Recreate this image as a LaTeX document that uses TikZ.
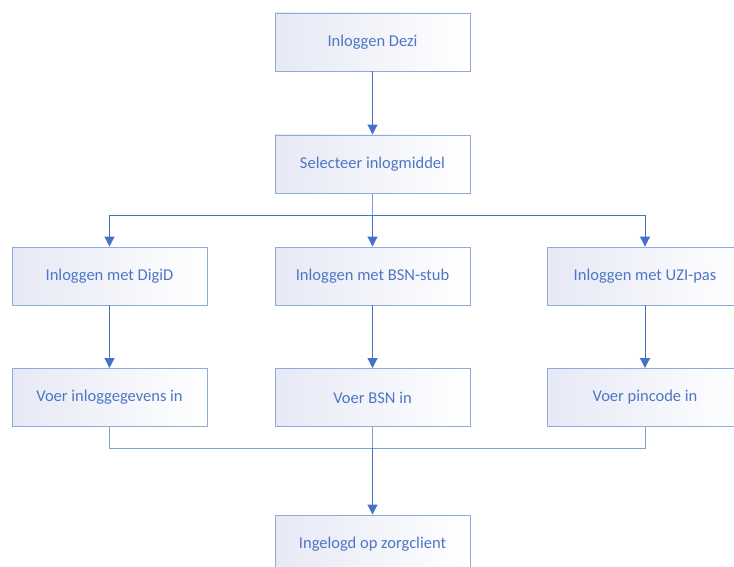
\documentclass[tikz,border=0pt]{standalone}
\usepackage{fontspec}
\setmainfont{Carlito}
\usepackage{tikz}
\usetikzlibrary{arrows.meta,positioning}

\definecolor{boxline}{RGB}{143,170,220}
\definecolor{flowline}{RGB}{68,114,196}
\definecolor{boxtext}{RGB}{78,118,196}
\definecolor{boxfill}{RGB}{230,233,245}

\tikzset{
  stap/.style={draw=boxline, line width=0.9pt, left color=boxfill, right color=white,
               minimum width=195pt, minimum height=58pt, text=boxtext,
               font=\fontsize{16.5}{19}\selectfont},
  pijl/.style={draw=flowline, line width=1pt, -{Triangle[length=10pt,width=10pt]}},
  lijn/.style={draw=boxline!80!flowline, line width=1pt}
}

\begin{document}
\begin{tikzpicture}[x=1pt,y=-1pt]
    \clip (0,0) rectangle (734,567);
    \useasboundingbox (0,0) rectangle (734,567);

    % hoofdlijn
    \node[stap] (dezi)   at (372.5,42)  {Inloggen Dezi};
    \node[stap] (select) at (372.5,164) {Selecteer inlogmiddel};

    % de drie inlogmiddelen
    \node[stap] (digid) at (109.5,276) {Inloggen met DigiD};
    \node[stap] (bsn)   at (372.5,276) {Inloggen met BSN-stub};
    \node[stap] (uzi)   at (645,276)   {Inloggen met UZI-pas};

    \node[stap] (gegevens) at (109.5,397.5) {Voer inloggegevens in};
    \node[stap] (bsnin)    at (372.5,397.5) {Voer BSN in};
    \node[stap] (pincode)  at (645,397.5)   {Voer pincode in};

    \node[stap] (klaar) at (372.5,544) {Ingelogd op zorgclient};

    % splitsen en samenkomen
    \coordinate (split) at (372.5,215);
    \coordinate (samen) at (372.5,448);

    \draw[pijl] (dezi) -- (select);
    \draw[pijl] (select) -- (bsn);
    \draw[lijn] (select) -- (split);
    \draw[pijl] (split) -| (digid);
    \draw[pijl] (split) -| (uzi);

    \draw[pijl] (digid) -- (gegevens);
    \draw[pijl] (bsn)   -- (bsnin);
    \draw[pijl] (uzi)   -- (pincode);

    \draw[lijn] (gegevens) |- (samen);
    \draw[lijn] (pincode)  |- (samen);
    \draw[lijn] (bsnin) -- (samen);
    \draw[pijl] (samen) -- (klaar);
\end{tikzpicture}
\end{document}
